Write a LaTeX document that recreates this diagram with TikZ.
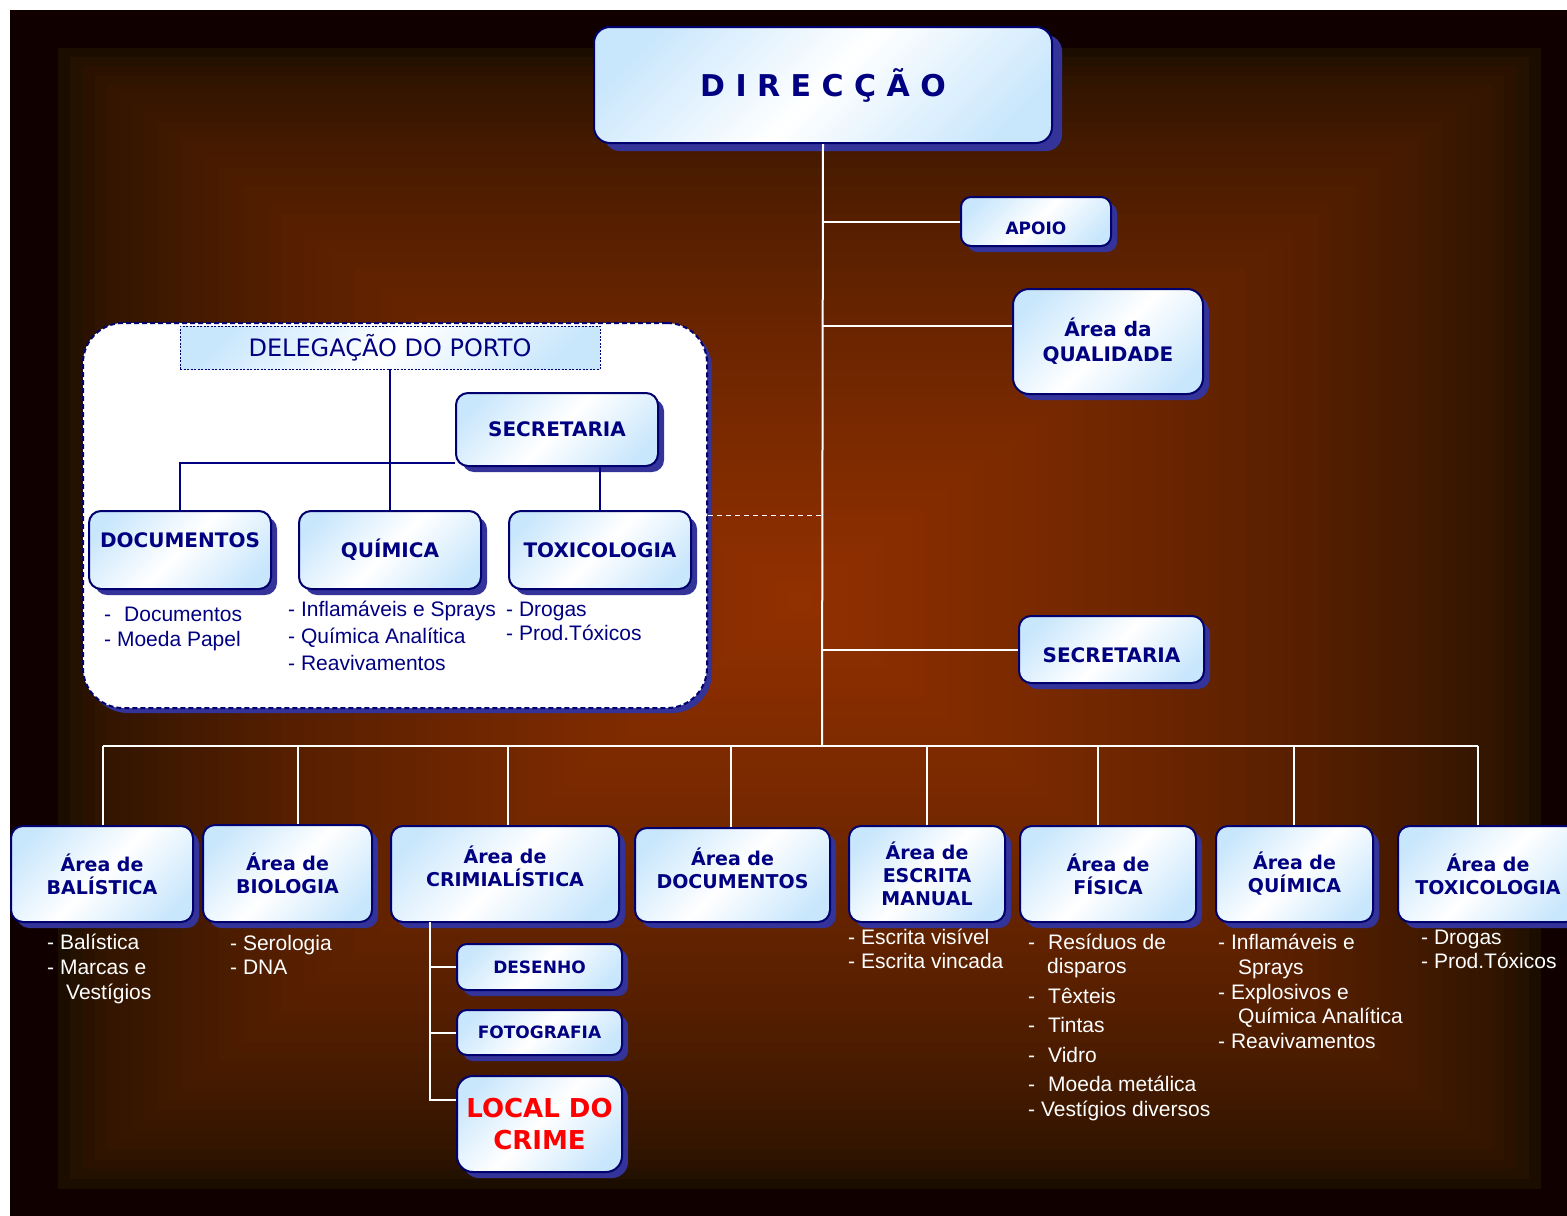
\documentclass[tikz,border=0pt]{standalone}
\usepackage{fontspec}
\setmainfont{Liberation Sans}
\newfontfamily\dvs{DejaVu Sans}
\usetikzlibrary{shadows,calc}
\definecolor{navy}{RGB}{0,0,128}
\definecolor{bord}{RGB}{0,0,110}
\definecolor{shad}{RGB}{51,51,153}
\definecolor{lb}{RGB}{200,230,252}
\definecolor{bgout}{RGB}{27,14,0}
\definecolor{bgin}{RGB}{146,48,0}
\definecolor{framec}{RGB}{16,0,0}
\definecolor{crimered}{RGB}{255,0,0}
\pgfdeclarehorizontalshading{boxgrad}{100bp}{color(0bp)=(lb); color(22bp)=(lb); color(50bp)=(white); color(78bp)=(lb); color(100bp)=(lb)}
\newcommand\itm[5]{\node[lst,text=#1] (#2) at (#3,#4) {#5};}
\begin{document}
\begin{tikzpicture}[x=1pt,y=-1pt,
  boxbase/.style={draw=bord, line width=2pt, rounded corners=12pt, shade, shading=boxgrad, shading angle=-45, text=navy, align=center, inner sep=0pt, font=\dvs\bfseries\fontsize{19}{23}\selectfont},
  box/.style={boxbase, drop shadow={shadow xshift=6pt, shadow yshift=-6pt, fill=shad, opacity=1}},
  sz/.style 2 args={minimum width=#1pt, minimum height=#2pt},
  ttl/.style={text=navy, align=center, inner sep=0pt, font=\dvs\bfseries\fontsize{19}{23}\selectfont},
  f20/.style={font=\dvs\bfseries\fontsize{20}{25}\selectfont},
  f17/.style={font=\dvs\bfseries\fontsize{17}{21}\selectfont},
  wline/.style={draw=white, line width=2pt},
  nline/.style={draw=navy, line width=2pt},
  lst/.style={font=\fontsize{21}{25}\selectfont, inner sep=0pt, anchor=base west},
]
\useasboundingbox (0,0) rectangle (1567,1216);
\clip (0,0) rectangle (1567,1216);
\fill[white] (0,0) rectangle (1567,1216);
\fill[framec] (10,10) rectangle (1567,1216);
\fill[bgout] (58,48) rectangle (1541,1189);
\foreach \i in {1,...,59}{
  \pgfmathsetmacro\t{\i/60}
  \pgfmathsetmacro\p{100*(\t)^0.6}
  \fill[bgin!\p!bgout] ({58+\t*742},{48+\t*552}) rectangle ({1541-\t*741},{1189-\t*589});
}

% ---------- top ----------
\node[boxbase, sz={458}{116}, rounded corners=16pt,
      drop shadow={shadow xshift=10pt, shadow yshift=-8pt, fill=shad, opacity=1},
      font=\dvs\bfseries\fontsize{30}{36}\selectfont] (dir) at (823,85) {D I R E C Ç Ã O};

\node[box, f17, sz={150}{49}, rounded corners=10pt] (apoio) at (1036,221.5) {};
\node[ttl, f17] (apoiot) at (1036,228) {APOIO};
\node[box, f20, sz={190}{105}, rounded corners=16pt] (qual) at (1108,341.5) {Área da\\QUALIDADE};
\node[box, sz={185}{67}] (secr) at (1111.5,649.5) {};
\node[ttl, f20] (secrt) at (1111.5,655) {SECRETARIA};

% ---------- delegation ----------
\node[draw=bord, line width=2pt, dash pattern=on 5pt off 3pt, fill=white, rounded corners=40pt,
      sz={624}{385}, drop shadow={shadow xshift=5pt, shadow yshift=-5pt, fill=shad, opacity=1}] (deleg) at (395,515.5) {};
\node[draw=bord, line width=0.8pt, dash pattern=on 2pt off 1.5pt, shade, shading=boxgrad, shading angle=-45,
      sz={420}{43}, inner sep=0pt, text=navy, font=\dvs\fontsize{24}{28}\selectfont] (dtit) at (390,347.5) {DELEGAÇÃO DO PORTO};
\node[box, f20, sz={202}{73}] (dsec) at (557,429.5) {SECRETARIA};
\node[box, sz={182}{78}] (ddoc) at (180,550) {};
\node[ttl, f20] (ddoct) at (180,540) {DOCUMENTOS};
\node[box, f20, sz={182}{78}] (dqui) at (390,550) {QUÍMICA};
\node[box, f20, sz={182}{78}] (dtox) at (600,550) {TOXICOLOGIA};

\coordinate (dj) at (180,463);
\draw[nline] (dtit.south) -- (dqui.north);
\draw[nline] (ddoc.north) |- (dsec.west |- dj);
\draw[nline] (dtox.north) -- (dtox.north |- dsec.south);

\itm{navy}{la1}{104}{621}{-\hspace{13pt}Documentos}
\itm{navy}{la2}{104}{646}{- Moeda Papel}
\itm{navy}{lb1}{288}{616}{- Inflamáveis e Sprays}
\itm{navy}{lb2}{288}{643}{- Química Analítica}
\itm{navy}{lb3}{288}{670}{- Reavivamentos}
\itm{navy}{lc1}{506}{616}{- Drogas}
\itm{navy}{lc2}{506}{640}{- Prod.Tóxicos}

% ---------- bottom row ----------
\node[box, sz={182}{96}] (bal) at (102,874) {Área de\\BALÍSTICA};
\node[box, sz={169}{97}] (bio) at (287.5,873.5) {Área de\\BIOLOGIA};
\node[box, sz={228}{96}] (crim) at (505,874) {};
\node[ttl] (crimt) at (505,866.5) {Área de\\CRIMIALÍSTICA};
\node[box, sz={195}{94}] (doc) at (732.5,875) {};
\node[ttl] (doct) at (732.5,868) {Área de\\DOCUMENTOS};
\node[box, sz={156}{96}] (esc) at (927,874) {Área de\\ESCRITA\\MANUAL};
\node[box, sz={176}{96}] (fis) at (1108,874) {Área de\\FÍSICA};
\node[box, sz={157}{96}] (qui) at (1294.5,874) {Área de\\QUÍMICA};
\node[box, sz={180}{96}] (tox) at (1488,874) {Área de\\TOXICOLOGIA};

\node[box, f17, sz={165}{46}, rounded corners=10pt] (des) at (539.5,967) {DESENHO};
\node[box, f17, sz={165}{45}, rounded corners=10pt] (foto) at (539.5,1032.5) {FOTOGRAFIA};
\node[box, sz={165}{96}, rounded corners=16pt, text=crimered,
      font=\dvs\bfseries\fontsize{26}{32}\selectfont] (local) at (539.5,1124) {LOCAL DO\\CRIME};

% ---------- white connectors ----------
\coordinate (hb) at (822,746);
\coordinate (tq) at (822,326);
\coordinate (d1) at (103,746);
\coordinate (d2) at (298,746);
\coordinate (d3) at (508,746);
\coordinate (d4) at (731,746);
\coordinate (d5) at (927,746);
\coordinate (d6) at (1098,746);
\coordinate (d7) at (1294,746);
\coordinate (d8) at (1478,746);
\draw[wline] (dir.south) -- (hb);
\draw[wline] (hb |- apoio.west) -- (apoio.west);
\draw[wline] (tq) -- (tq -| qual.west);
\draw[wline] (hb |- secr.west) -- (secr.west);
\draw[wline, dash pattern=on 5pt off 4pt, line width=1.5pt] (deleg.east) -- (deleg.east -| hb);
\draw[wline] (d1) -- (d8);
\draw[wline] (d1) -- (d1 |- bal.north);
\draw[wline] (d2) -- (d2 |- bio.north);
\draw[wline] (d3) -- (d3 |- crim.north);
\draw[wline] (d4) -- (d4 |- doc.north);
\draw[wline] (d5) -- (d5 |- esc.north);
\draw[wline] (d6) -- (d6 |- fis.north);
\draw[wline] (d7) -- (d7 |- qui.north);
\draw[wline] (d8) -- (d8 |- tox.north);

\coordinate (cs) at (430,922);
\coordinate (cl) at (430,1100);
\draw[wline] (cs) -- (cl) -- (cl -| local.west);
\draw[wline] (cs |- des.west) -- (des.west);
\draw[wline] (cs |- foto.west) -- (foto.west);

% ---------- white lists ----------
\itm{white}{w1}{47}{949}{- Balística}
\itm{white}{w2}{47}{974}{- Marcas e}
\itm{white}{w3}{66}{999}{Vestígios}
\itm{white}{w4}{230}{950}{- Serologia}
\itm{white}{w5}{230}{974}{- DNA}
\itm{white}{w6}{848}{944}{- Escrita visível}
\itm{white}{w7}{848}{968}{- Escrita vincada}
\itm{white}{w8}{1028}{949}{-\hspace{13pt}Resíduos de}
\itm{white}{w9}{1047}{973}{disparos}
\itm{white}{w10}{1028}{1003}{-\hspace{13pt}Têxteis}
\itm{white}{w11}{1028}{1032}{-\hspace{13pt}Tintas}
\itm{white}{w12}{1028}{1062}{-\hspace{13pt}Vidro}
\itm{white}{w13}{1028}{1091}{-\hspace{13pt}Moeda metálica}
\itm{white}{w14}{1028}{1116}{- Vestígios diversos}
\itm{white}{w15}{1218}{949}{- Inflamáveis e}
\itm{white}{w16}{1238}{974}{Sprays}
\itm{white}{w17}{1218}{999}{- Explosivos e}
\itm{white}{w18}{1238}{1023}{Química Analítica}
\itm{white}{w19}{1218}{1048}{- Reavivamentos}
\itm{white}{w20}{1421}{944}{- Drogas}
\itm{white}{w21}{1421}{968}{- Prod.Tóxicos}
\end{tikzpicture}
\end{document}
